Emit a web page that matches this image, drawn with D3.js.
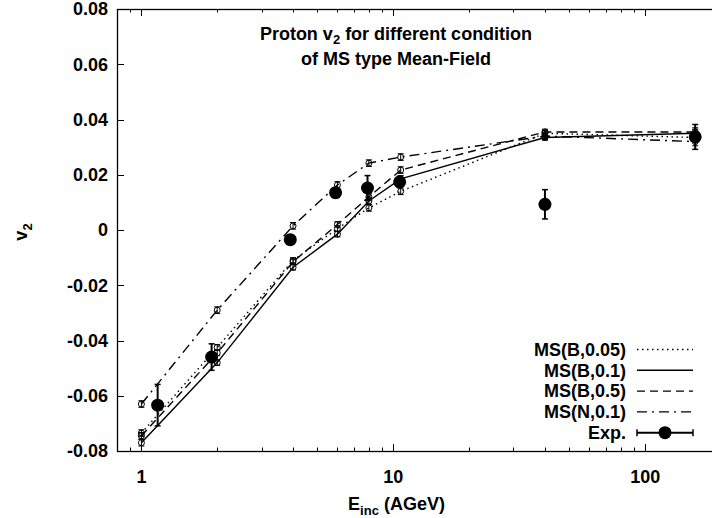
<!DOCTYPE html>
<html><head><meta charset="utf-8">
<script src="https://cdn.jsdelivr.net/npm/d3@7"></script>
<style>
html,body{margin:0;padding:0;background:#fff;}
svg{display:block;font-family:"Liberation Sans",Arial,Helvetica,sans-serif;font-weight:bold;}
</style></head>
<body><svg id="c" width="712" height="518"></svg>
<script>
// ---- data ----
const energies = [1, 2, 4, 6, 8, 10.7, 40, 158];
const msB005 = [-0.0735, -0.0425, -0.011, 0.0005, 0.008, 0.014, 0.035, 0.0335];
const msB01  = [-0.077, -0.048, -0.0135, -0.0015, 0.0105, 0.0185, 0.0335, 0.035];
const msB05  = [-0.0745, -0.0445, -0.0115, 0.002, 0.012, 0.0217, 0.0355, 0.0355];
const msN01  = [-0.063, -0.029, 0.0015, 0.0163, 0.0242, 0.0264, 0.034, 0.032];
const errB005 = [0.0012, 0.001, 0.001, 0.001, 0.0012, 0.0012, 0.001, 0.0015];
const errB01  = [0.0012, 0.001, 0.001, 0.001, 0.0012, 0.0012, 0.001, 0.0015];
const errB05  = [0.0012, 0.001, 0.001, 0.001, 0.0012, 0.0012, 0.001, 0.0015];
const errN01  = [0.0012, 0.0012, 0.0012, 0.0012, 0.0012, 0.0012, 0.0012, 0.0015];
const expE   = [1.16, 1.9, 3.9, 5.9, 7.9, 10.6, 40, 158];
const expV   = [-0.0634, -0.046, -0.0035, 0.0135, 0.0152, 0.0174, 0.0093, 0.0337];
const expErr = [0.0075, 0.0048, 0.001, 0.0018, 0.0045, 0.002, 0.0053, 0.0045];
const seriesNames = ["MS(B,0.05)", "MS(B,0.1)", "MS(B,0.5)", "MS(N,0.1)"];
const expName = "Exp.";
const xTickLabels = [1, 10, 100];
const yTickValues = [-0.08, -0.06, -0.04, -0.02, 0, 0.02, 0.04, 0.06, 0.08];
const xDomain = [0.8, 200];
const yDomain = [-0.08, 0.08];

// ---- layout ----
const svg = d3.select("#c");
const L = 117, R = 721, T = 9, B = 451;
const x = d3.scaleLog().domain(xDomain).range([L, R]);
const y = d3.scaleLinear().domain(yDomain).range([B, T]);
const fs = 18, fsSub = 13;

const dashes = ["1.5,3.5", null, "8,5", "10,5,2,5"];
const series = [
  {name: seriesNames[0], v: msB005, e: errB005, dash: dashes[0]},
  {name: seriesNames[1], v: msB01,  e: errB01,  dash: dashes[1]},
  {name: seriesNames[2], v: msB05,  e: errB05,  dash: dashes[2]},
  {name: seriesNames[3], v: msN01,  e: errN01,  dash: dashes[3]},
];

svg.append("defs").append("clipPath").attr("id","pc")
  .append("rect").attr("x",L).attr("y",T).attr("width",R-L).attr("height",B-T);

// ticks
const g = svg.append("g").attr("stroke","#000").attr("stroke-width",1);
const minorX = [];
for (let d = 0.1; d <= 100; d *= 10) for (let k = 1; k <= 9; k++) {
  const v = +(k*d).toPrecision(3);
  if (v >= xDomain[0] && v <= xDomain[1]) minorX.push(v);
}
minorX.forEach(v => {
  const major = xTickLabels.includes(v);
  const len = major ? 7 : 3.5;
  const xx = Math.round(x(v)) + 0.5;
  g.append("line").attr("x1",xx).attr("x2",xx).attr("y1",B).attr("y2",B-len);
  g.append("line").attr("x1",xx).attr("x2",xx).attr("y1",T).attr("y2",T+len);
});
yTickValues.forEach(v => {
  const yy = Math.round(y(v)) + 0.5;
  g.append("line").attr("x1",L).attr("x2",L+7).attr("y1",yy).attr("y2",yy);
  g.append("line").attr("x1",R).attr("x2",R-7).attr("y1",yy).attr("y2",yy);
});
// frame
svg.append("rect").attr("x",L+0.5).attr("y",T+0.5).attr("width",R-L).attr("height",B-T)
  .attr("fill","none").attr("stroke","#000").attr("stroke-width",1.3);

// tick labels
xTickLabels.forEach(v => {
  svg.append("text").attr("x",x(v)).attr("y",483).attr("text-anchor","middle")
    .attr("font-size",fs).text(v);
});
yTickValues.forEach(v => {
  svg.append("text").attr("x",L-9).attr("y",y(v)+6.3).attr("text-anchor","end")
    .attr("font-size",fs).text(v === 0 ? "0" : v.toFixed(2));
});

// axis labels
const xl = svg.append("text").attr("x",(L+712)/2 - 18).attr("y",510).attr("text-anchor","middle").attr("font-size",fs);
xl.append("tspan").text("E");
xl.append("tspan").attr("font-size",fsSub).attr("dy",5).text("inc");
xl.append("tspan").attr("dy",-5).text(" (AGeV)");
const yl = svg.append("text").attr("transform","translate(27,232) rotate(-90)").attr("text-anchor","middle").attr("font-size",fs);
yl.append("tspan").text("v");
yl.append("tspan").attr("font-size",fsSub).attr("dy",5).text("2");

// title
const t1 = svg.append("text").attr("x",396).attr("y",40).attr("text-anchor","middle").attr("font-size",fs);
t1.append("tspan").text("Proton v");
t1.append("tspan").attr("font-size",fsSub).attr("dy",4).text("2");
t1.append("tspan").attr("dy",-4).text(" for different condition");
svg.append("text").attr("x",396).attr("y",65).attr("text-anchor","middle").attr("font-size",fs)
  .text("of MS type Mean-Field");

// plot content
const pg = svg.append("g").attr("clip-path","url(#pc)");
const line = d3.line().x(d => x(d[0])).y(d => y(d[1]));
series.forEach(s => {
  const pts = energies.map((e,i) => [e, s.v[i], s.e[i]]);
  pg.append("path").attr("d", line(pts)).attr("fill","none").attr("stroke","#000")
    .attr("stroke-width",1.4).attr("stroke-dasharray", s.dash);
  pts.forEach(p => {
    const cx = x(p[0]);
    pg.append("line").attr("x1",cx).attr("x2",cx).attr("y1",y(p[1]-p[2])).attr("y2",y(p[1]+p[2]))
      .attr("stroke","#000").attr("stroke-width",1);
    [p[1]-p[2], p[1]+p[2]].forEach(v => pg.append("line").attr("x1",cx-3).attr("x2",cx+3)
      .attr("y1",y(v)).attr("y2",y(v)).attr("stroke","#000").attr("stroke-width",1));
    pg.append("circle").attr("cx",cx).attr("cy",y(p[1])).attr("r",3)
      .attr("fill","none").attr("stroke","#000").attr("stroke-width",1);
  });
});
expE.forEach((e,i) => {
  const cx = x(e);
  pg.append("line").attr("x1",cx).attr("x2",cx).attr("y1",y(expV[i]-expErr[i])).attr("y2",y(expV[i]+expErr[i]))
    .attr("stroke","#000").attr("stroke-width",2);
  [expV[i]-expErr[i], expV[i]+expErr[i]].forEach(v => pg.append("line").attr("x1",cx-3).attr("x2",cx+3)
    .attr("y1",y(v)).attr("y2",y(v)).attr("stroke","#000").attr("stroke-width",1.5));
  pg.append("circle").attr("cx",cx).attr("cy",y(expV[i])).attr("r",6.5).attr("fill","#000");
});

// legend
const legY0 = 349.5, legDy = 20.8, lx1 = 637, lx2 = 693, ltx = 626;
series.forEach((s,i) => {
  const yy = legY0 + i*legDy;
  svg.append("text").attr("x",ltx).attr("y",yy+6.3).attr("text-anchor","end").attr("font-size",fs).text(s.name);
  svg.append("line").attr("x1",lx1).attr("x2",lx2).attr("y1",yy).attr("y2",yy)
    .attr("stroke","#000").attr("stroke-width",1.4).attr("stroke-dasharray",s.dash);
});
{
  const yy = legY0 + 4*legDy;
  svg.append("text").attr("x",ltx).attr("y",yy+6.3).attr("text-anchor","end").attr("font-size",fs).text(expName);
  svg.append("line").attr("x1",lx1).attr("x2",lx2).attr("y1",yy).attr("y2",yy).attr("stroke","#000").attr("stroke-width",2);
  [lx1,lx2].forEach(xx => svg.append("line").attr("x1",xx).attr("x2",xx).attr("y1",yy-3.5).attr("y2",yy+3.5)
    .attr("stroke","#000").attr("stroke-width",1.5));
  svg.append("circle").attr("cx",(lx1+lx2)/2).attr("cy",yy).attr("r",6.5).attr("fill","#000");
}
</script></body></html>
